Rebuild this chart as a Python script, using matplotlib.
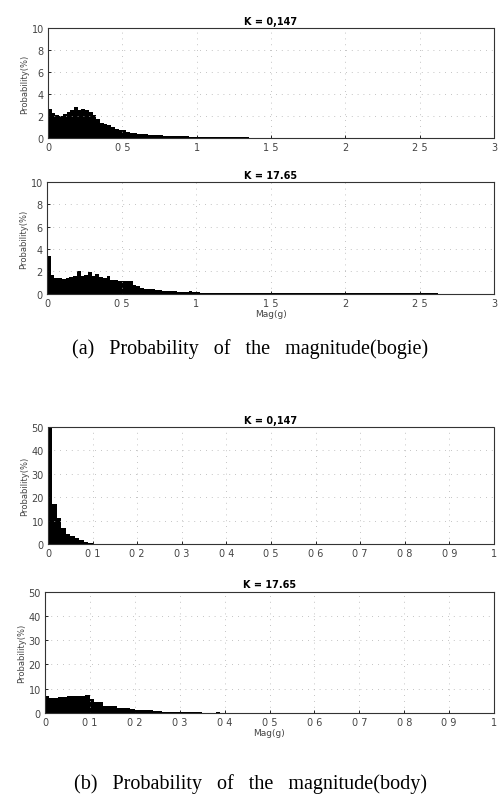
import numpy as np
import matplotlib.pyplot as plt

# probability (%) per magnitude bin, bogie, bin width 0.025 g
bw_bogie = 0.025
bogie_k1 = [2.6, 2.3, 2.1, 2.0, 2.2, 2.4, 2.5, 2.8, 2.5, 2.6,
            2.5, 2.4, 2.1, 1.7, 1.4, 1.3, 1.2, 1.0, 0.85, 0.75,
            0.7, 0.5, 0.45, 0.45, 0.4, 0.35, 0.32, 0.3, 0.27, 0.24,
            0.22, 0.2, 0.19, 0.17, 0.16, 0.15, 0.14, 0.13, 0.12, 0.12,
            0.11, 0.1, 0.09, 0.08, 0.08, 0.07, 0.06, 0.06, 0.05, 0.05,
            0.05, 0.04, 0.04, 0.04, 0.03, 0.03, 0.03, 0.03, 0.02, 0.02,
            0.03, 0.02, 0.02, 0.02, 0.02, 0.02, 0.02, 0.01, 0.02, 0.01,
            0.02, 0.01, 0.01, 0.01, 0.01, 0.01, 0.01, 0.01, 0.01, 0.01]
bogie_k2 = [3.4, 1.7, 1.4, 1.4, 1.35, 1.4, 1.5, 1.6, 2.0, 1.6,
            1.7, 1.9, 1.6, 1.8, 1.5, 1.4, 1.6, 1.2, 1.2, 1.15,
            1.1, 1.15, 1.1, 0.8, 0.7, 0.5, 0.45, 0.4, 0.4, 0.35,
            0.3, 0.28, 0.25, 0.22, 0.2, 0.18, 0.15, 0.15, 0.2, 0.18,
            0.12, 0.1, 0.1, 0.09, 0.08, 0.08, 0.07, 0.08, 0.06, 0.06,
            0.06, 0.05, 0.05, 0.05, 0.04, 0.04, 0.05, 0.04, 0.04, 0.03,
            0.03, 0.03, 0.03, 0.03, 0.03, 0.02, 0.02, 0.03, 0.02, 0.02,
            0.02, 0.02, 0.02, 0.02, 0.02, 0.02, 0.02, 0.02, 0.02, 0.02,
            0.02, 0.02, 0.02, 0.02, 0.02, 0.02, 0.02, 0.02, 0.02, 0.02,
            0.02, 0.02, 0.02, 0.02, 0.02, 0.02, 0.02, 0.02, 0.02, 0.02,
            0.02, 0.02, 0.02, 0.02, 0.02, 0.01, 0.01, 0.01, 0.01, 0.01]

# body, bin width 0.01 g
bw_body = 0.01
body_k1 = [55, 17, 11, 7.0, 4.5, 3.5, 2.5, 1.7, 1.0, 0.4,
           0.2, 0.1, 0.05, 0.03, 0.02]
body_k2 = [7.0, 6.3, 6.2, 6.4, 6.7, 7.0, 7.1, 7.1, 7.1, 7.4,
           5.6, 4.6, 4.4, 3.0, 2.8, 2.7, 2.1, 2.0, 1.9, 1.4,
           1.3, 1.1, 1.1, 1.0, 0.8, 0.6, 0.5, 0.5, 0.4, 0.4,
           0.3, 0.2, 0.5, 0.4, 0.2, 0.15, 0.15, 0.1, 0.2, 0.1,
           0.05, 0.03, 0.02]

titles = ['K = 0,147', 'K = 17.65', 'K = 0,147', 'K = 17.65']
bogie_xticks = [0, 0.5, 1, 1.5, 2, 2.5, 3]
bogie_xlabels = ['0', '0 5', '1', '1 5', '2', '2 5', '3']
bogie_yticks = [0, 2, 4, 6, 8, 10]
body_xticks = [0, 0.1, 0.2, 0.3, 0.4, 0.5, 0.6, 0.7, 0.8, 0.9, 1]
body_xlabels = ['0', '0 1', '0 2', '0 3', '0 4', '0 5', '0 6', '0 7', '0 8', '0 9', '1']
body_yticks = [0, 10, 20, 30, 40, 50]

fig = plt.figure(figsize=(5.0, 8.03), dpi=100)

boxes = [[0.096, 0.827, 0.892, 0.137],
         [0.094, 0.633, 0.894, 0.139],
         [0.096, 0.321, 0.892, 0.146],
         [0.090, 0.111, 0.898, 0.151]]

panels = [(bogie_k1, bw_bogie, 3, 10), (bogie_k2, bw_bogie, 3, 10),
          (body_k1, bw_body, 1, 50), (body_k2, bw_body, 1, 50)]

for i, (vals, bw, xmax, ymax) in enumerate(panels):
    ax = fig.add_axes(boxes[i])
    edges = np.arange(len(vals) + 1) * bw
    ax.stairs(vals, edges, fill=True, color='black')
    ax.set_xlim(0, xmax)
    ax.set_ylim(0, ymax)
    if xmax == 3:
        ax.set_xticks(bogie_xticks)
        ax.set_xticklabels(bogie_xlabels)
        ax.set_yticks(bogie_yticks)
    else:
        ax.set_xticks(body_xticks)
        ax.set_xticklabels(body_xlabels)
        ax.set_yticks(body_yticks)
    ax.grid(True, linestyle=(0, (1, 6)), color='#b0b0b0', lw=0.6)
    for s in ax.spines.values():
        s.set_linestyle((0, (1, 1)))
        s.set_linewidth(0.8)
        s.set_color('#333333')
    ax.tick_params(direction='in', length=2, width=0.6, labelsize=7,
                   labelcolor='#444444', pad=3)
    ax.set_title(titles[i], fontsize=7, fontweight='bold', pad=3)
    ax.set_ylabel('Probability(%)', fontsize=6, color='#444444', labelpad=2)
    if i in (1, 3):
        ax.set_xlabel('Mag(g)', fontsize=6.5, color='#444444', labelpad=1)

fig.text(0.5, 0.565, '(a)   Probability   of   the   magnitude(bogie)',
         ha='center', va='center', family='Liberation Serif', fontsize=14.5)
fig.text(0.5, 0.024, '(b)   Probability   of   the   magnitude(body)',
         ha='center', va='center', family='Liberation Serif', fontsize=14.5)

fig.savefig('out.png', dpi=100)
